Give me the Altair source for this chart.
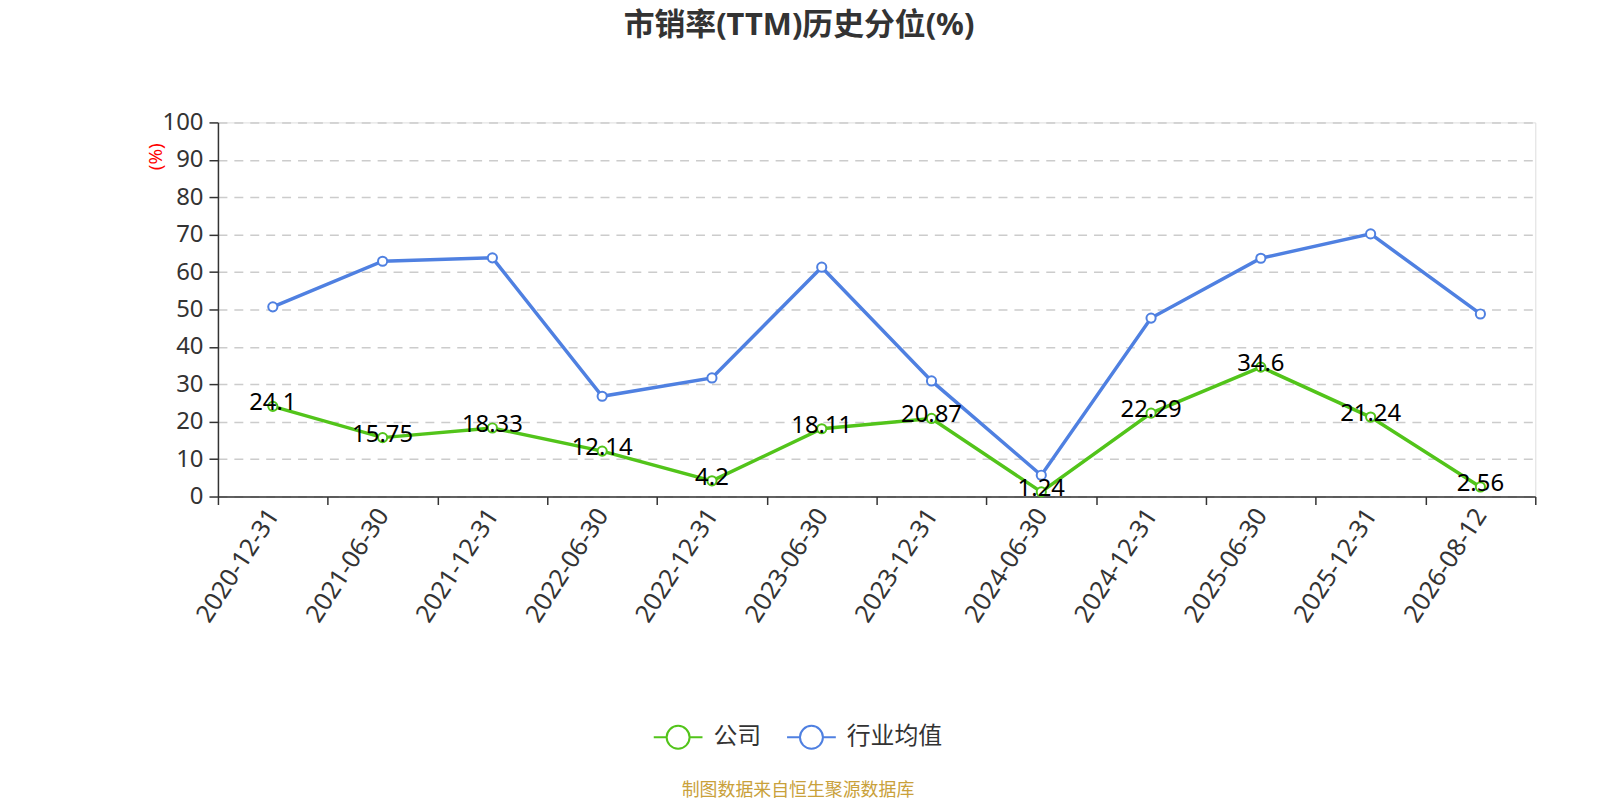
import altair as alt
import pandas as pd

TITLE = "市销率(TTM)历史分位(%)"
SOURCE = "制图数据来自恒生聚源数据库"
dates = ["2020-12-31", "2021-06-30", "2021-12-31", "2022-06-30", "2022-12-31", "2023-06-30",
         "2023-12-31", "2024-06-30", "2024-12-31", "2025-06-30", "2025-12-31", "2026-08-12"]
company = [24.1, 15.75, 18.33, 12.14, 4.2, 18.11, 20.87, 1.24, 22.29, 34.6, 21.24, 2.56]
industry = [50.7, 62.9, 63.8, 26.8, 31.7, 61.3, 30.9, 5.7, 47.7, 63.7, 70.2, 48.8]
series_names = ["公司", "行业均值"]
series_colors = ["#52c41a", "#4f80e1"]
y_ticks = [0, 10, 20, 30, 40, 50, 60, 70, 80, 90, 100]

rows = []
for d, v in zip(dates, company):
    rows.append({"date": d, "value": v, "series": series_names[0], "label": str(v)})
for d, v in zip(dates, industry):
    rows.append({"date": d, "value": v, "series": series_names[1], "label": ""})
df = pd.DataFrame(rows)

FONT = "'Noto Sans', 'Noto Sans CJK SC', sans-serif"

legend_path = ("M-1,0L-0.47,0M0.47,0L1,0"
               "M0.47,0A0.47,0.47,0,1,1,-0.47,0A0.47,0.47,0,1,1,0.47,0Z")

W = 1324
x_enc = alt.X(
    "date:N", sort=dates,
    scale=alt.Scale(type="band", paddingInner=0, paddingOuter=0),
    axis=alt.Axis(title=None, labelAngle=-57, labelAlign="right", labelBaseline="middle",
                  labelFontSize=25, labelColor="#333", labelPadding=6,
                  tickBand="extent", tickSize=8, tickColor="#333", tickWidth=1.5,
                  domainColor="#333", domainWidth=1.5, grid=False, labelFont=FONT),
)
y_enc = alt.Y(
    "value:Q",
    scale=alt.Scale(domain=[0, 100], nice=False),
    axis=alt.Axis(values=y_ticks, title="(%)", titleColor="#ff0000", titleFontSize=19,
                  titleFontWeight="normal", titleAngle=270, titleX=-63, titleY=34,
                  titleAlign="center", titleBaseline="middle",
                  labelFontSize=24, labelColor="#333", labelPadding=6,
                  tickSize=9, tickColor="#333", tickWidth=1.5,
                  domainColor="#333", domainWidth=1.5,
                  grid=True, gridColor="#cccccc", gridDash=[9, 7], gridWidth=1.5,
                  labelFont=FONT, titleFont=FONT),
)
color_scale = alt.Scale(domain=series_names, range=series_colors)

base = alt.Chart(df)

lines = base.mark_line(strokeWidth=3.5).encode(
    x=x_enc, y=y_enc,
    color=alt.Color("series:N", scale=color_scale, sort=series_names,
                    legend=alt.Legend(orient="none", legendX=437, legendY=592,
                                      direction="horizontal", title=None,
                                      symbolType=legend_path, symbolSize=2401,
                                      symbolStrokeWidth=2, symbolFillColor="white",
                                      labelFontSize=24, labelColor="#333", labelFont=FONT,
                                      labelOffset=10, columnPadding=22, padding=0)),
)

points = base.mark_point(filled=True, fill="white", size=85, strokeWidth=2, opacity=1).encode(
    x=x_enc, y=y_enc,
    stroke=alt.Stroke("series:N", scale=color_scale, legend=None),
)

labels = base.transform_filter(alt.datum.label != "").mark_text(
    fontSize=24, color="#000", baseline="middle", align="center", dy=-3, font=FONT
).encode(x=x_enc, y=y_enc, text="label:N")

title = alt.Chart(pd.DataFrame({"t": [TITLE]})).mark_text(
    fontSize=31, fontWeight="bold", color="#333", align="center", baseline="middle", font=FONT
).encode(x=alt.value(584), y=alt.value(-97), text="t:N")

source = alt.Chart(pd.DataFrame({"t": [SOURCE]})).mark_text(
    fontSize=18, color="#c9a13b", align="center", baseline="middle", font=FONT
).encode(x=alt.value(583), y=alt.value(672), text="t:N")

chart = alt.layer(lines, points, labels, title, source).properties(
    width=W, height=376,
    autosize=alt.AutoSizeParams(type="none"),
    padding={"left": 211, "top": 113, "right": 57, "bottom": 303},
).configure_view(stroke=None).configure(background="white")

chart.save("out.html", embed_options={"renderer": "svg", "actions": False})
